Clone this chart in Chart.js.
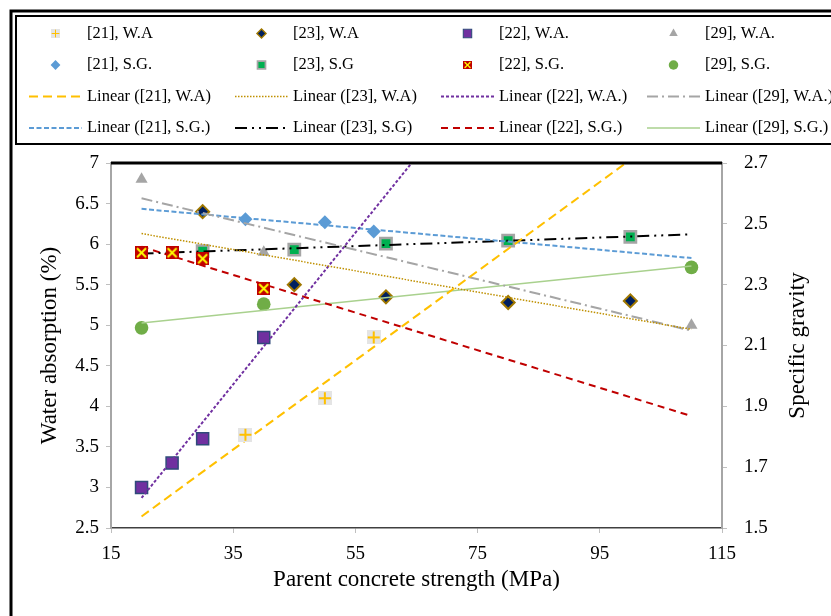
<!DOCTYPE html>
<html lang="en">
<head>
    <meta charset="UTF-8">
    <title>Water absorption and specific gravity</title>
    <style>
        body { margin: 0; background: #fff; }
        #wrap { width: 831px; height: 616px; }
    </style>
    <script src="https://cdn.jsdelivr.net/npm/chart.js"></script>
</head>
<body>
    <div id="wrap">
        <canvas id="chart" width="831" height="616"></canvas>
    </div>

    <script>
        // Water absorption (%) - left axis
        const wa21X = [37, 50, 58];
        const wa21Y = [3.65, 4.10, 4.85];
        const wa23X = [30, 45, 60, 80, 100];
        const wa23Y = [6.40, 5.50, 5.35, 5.28, 5.30];
        const wa22X = [20, 25, 30, 40];
        const wa22Y = [3.00, 3.30, 3.60, 4.85];
        const wa29X = [20, 40, 110];
        const wa29Y = [6.80, 5.90, 5.00];

        // Specific gravity - right axis
        const sg21X = [37, 50, 58];
        const sg21Y = [2.515, 2.505, 2.475];
        const sg23X = [30, 45, 60, 80, 100];
        const sg23Y = [2.410, 2.415, 2.435, 2.445, 2.457];
        const sg22X = [20, 25, 30, 40];
        const sg22Y = [2.405, 2.405, 2.385, 2.287];
        const sg29X = [20, 40, 110];
        const sg29Y = [2.158, 2.236, 2.357];

        // trend lines are drawn over this strength range
        const trendRange = [20, 110];

        const xTicks = [15, 115, 20];     // min, max, step
        const waTicks = [2.5, 7, 0.5];
        const sgTicks = [1.5, 2.7, 0.2];

        const serif = "'Liberation Serif', 'Times New Roman', serif";
        Chart.defaults.font.family = serif;
        Chart.defaults.color = '#000';

        function pts(xs, ys) {
            return xs.map((x, i) => ({ x: x, y: ys[i] }));
        }

        // least squares line, like Excel's "Linear" trendline
        function linear(xs, ys) {
            const n = xs.length;
            const mx = xs.reduce((a, b) => a + b, 0) / n;
            const my = ys.reduce((a, b) => a + b, 0) / n;
            let sxy = 0, sxx = 0;
            for (let i = 0; i < n; i++) {
                sxy += (xs[i] - mx) * (ys[i] - my);
                sxx += (xs[i] - mx) * (xs[i] - mx);
            }
            const b = sxy / sxx;
            return trendRange.map(x => ({ x: x, y: my + b * (x - mx) }));
        }

        // marker pictures that Chart.js has no style for
        function crossMarker(s) {
            const c = document.createElement('canvas');
            c.width = c.height = s;
            const g = c.getContext('2d');
            g.fillStyle = '#E4E4E4';
            g.fillRect(0, 0, s, s);
            g.strokeStyle = '#FFC000';
            g.lineWidth = 2;
            g.beginPath();
            g.moveTo(s / 2, 1); g.lineTo(s / 2, s - 1);
            g.moveTo(1, s / 2); g.lineTo(s - 1, s / 2);
            g.stroke();
            return c;
        }
        function xSquareMarker(s) {
            const c = document.createElement('canvas');
            c.width = c.height = s;
            const g = c.getContext('2d');
            g.fillStyle = '#C00000';
            g.fillRect(0, 0, s, s);
            g.strokeStyle = '#FFFF00';
            g.lineWidth = 2;
            g.beginPath();
            g.moveTo(2, 2); g.lineTo(s - 2, s - 2);
            g.moveTo(s - 2, 2); g.lineTo(2, s - 2);
            g.stroke();
            return c;
        }

        function markers(label, data, axis, style, r, fill, border, bw, i) {
            return {
                type: 'scatter', label: label, data: data, yAxisID: axis,
                pointStyle: style, pointRadius: r, pointHoverRadius: r,
                backgroundColor: fill, borderColor: border, borderWidth: bw,
                pointBackgroundColor: fill, pointBorderColor: border, pointBorderWidth: bw,
                order: 20 - i
            };
        }
        function trend(label, data, axis, color, width, dash) {
            return {
                type: 'scatter', label: label, data: data, yAxisID: axis,
                showLine: true, pointRadius: 0, pointHoverRadius: 0,
                borderColor: color, backgroundColor: color, borderWidth: width,
                borderDash: dash, order: 0
            };
        }

        const datasets = [
            markers('[21], W.A', pts(wa21X, wa21Y), 'y', crossMarker(14), '#E4E4E4', '#FFC000', 0, 0),
            markers('[23], W.A', pts(wa23X, wa23Y), 'y', 'rectRot', 6.5, '#002060', '#A07800', 2, 1),
            markers('[22], W.A.', pts(wa22X, wa22Y), 'y', 'rect', 8.5, '#7030A0', '#2F4A7A', 1.5, 2),
            markers('[29], W.A.', pts(wa29X, wa29Y), 'y', 'triangle', 7, '#A5A5A5', '#A5A5A5', 0, 3),
            markers('[21], S.G.', pts(sg21X, sg21Y), 'y2', 'rectRot', 7, '#5B9BD5', '#5B9BD5', 0, 4),
            markers('[23], S.G', pts(sg23X, sg23Y), 'y2', 'rect', 8, '#00B050', '#A5A5A5', 2.5, 5),
            markers('[22], S.G.', pts(sg22X, sg22Y), 'y2', xSquareMarker(13), '#C00000', '#FFFF00', 0, 6),
            markers('[29], S.G.', pts(sg29X, sg29Y), 'y2', 'circle', 6.8, '#70AD47', '#70AD47', 0, 7),
            trend('Linear ([21], W.A)', linear(wa21X, wa21Y), 'y', '#FFC000', 2, [9, 5]),
            trend('Linear ([23], W.A)', linear(wa23X, wa23Y), 'y', '#BF9000', 1.5, [1.5, 1.5]),
            trend('Linear ([22], W.A.)', linear(wa22X, wa22Y), 'y', '#7030A0', 2, [3, 2]),
            trend('Linear ([29], W.A.)', linear(wa29X, wa29Y), 'y', '#A5A5A5', 2, [11, 4, 2, 4]),
            trend('Linear ([21], S.G.)', linear(sg21X, sg21Y), 'y2', '#5B9BD5', 2, [5, 2.5]),
            trend('Linear ([23], S.G)', linear(sg23X, sg23Y), 'y2', '#000000', 2, [12, 5, 2, 5, 2, 5]),
            trend('Linear ([22], S.G.)', linear(sg22X, sg22Y), 'y2', '#C00000', 2, [7, 5]),
            trend('Linear ([29], S.G.)', linear(sg29X, sg29Y), 'y2', '#A9D18E', 1.5, [])
        ];

        // frame, legend grid, top border of the plot and right axis title
        const decorPlugin = {
            id: 'decor',
            beforeDraw(chart) {
                const ctx = chart.ctx;
                ctx.save();
                ctx.fillStyle = '#fff';
                ctx.fillRect(0, 0, chart.width, chart.height);
                ctx.restore();
            },
            afterDraw(chart) {
                const ctx = chart.ctx;
                const area = chart.chartArea;
                ctx.save();

                // outer frame
                ctx.strokeStyle = '#000';
                ctx.lineWidth = 3;
                ctx.beginPath();
                ctx.moveTo(11, chart.height);
                ctx.lineTo(11, 11);
                ctx.lineTo(chart.width, 11);
                ctx.stroke();
                // legend box
                ctx.lineWidth = 2;
                ctx.beginPath();
                ctx.moveTo(chart.width, 16);
                ctx.lineTo(16, 16);
                ctx.lineTo(16, 144);
                ctx.lineTo(chart.width, 144);
                ctx.stroke();

                // plot top border
                ctx.lineWidth = 3;
                ctx.beginPath();
                ctx.moveTo(area.left, area.top);
                ctx.lineTo(area.right, area.top);
                ctx.stroke();

                // legend, 4 columns
                ctx.font = '16.5px ' + serif;
                ctx.textBaseline = 'middle';
                ctx.textAlign = 'left';
                chart.data.datasets.forEach((ds, i) => {
                    const tx = 87 + (i % 4) * 206;
                    const ty = 33.5 + Math.floor(i / 4) * 31.5;
                    if (ds.showLine) {
                        ctx.save();
                        ctx.strokeStyle = ds.borderColor;
                        ctx.lineWidth = ds.borderWidth;
                        ctx.setLineDash(ds.borderDash);
                        ctx.beginPath();
                        ctx.moveTo(tx - 58, ty);
                        ctx.lineTo(tx - 5, ty);
                        ctx.stroke();
                        ctx.restore();
                    } else if (ds.pointStyle instanceof HTMLCanvasElement) {
                        const s = ds.pointStyle.width * 0.65;
                        ctx.drawImage(ds.pointStyle, tx - 31.5 - s / 2, ty - s / 2, s, s);
                    } else {
                        ctx.save();
                        ctx.fillStyle = ds.pointBackgroundColor;
                        ctx.strokeStyle = ds.pointBorderColor;
                        ctx.lineWidth = ds.pointBorderWidth * 0.7;
                        Chart.helpers.drawPoint(ctx, {
                            pointStyle: ds.pointStyle,
                            radius: ds.pointRadius * 0.7,
                            borderWidth: ds.pointBorderWidth * 0.7,
                            rotation: 0
                        }, tx - 31.5, ty);
                        ctx.restore();
                    }
                    ctx.fillStyle = '#000';
                    ctx.fillText(ds.label, tx, ty);
                });

                // right axis title, reads bottom to top like the left one
                ctx.translate(798, (area.top + area.bottom) / 2);
                ctx.rotate(-Math.PI / 2);
                ctx.font = '23px ' + serif;
                ctx.textAlign = 'center';
                ctx.fillText('Specific gravity', 0, 0);
                ctx.restore();
            }
        };

        new Chart(document.getElementById('chart'), {
            type: 'scatter',
            data: { datasets: datasets },
            options: {
                responsive: false,
                animation: false,
                layout: { padding: { top: 163, left: 0, right: 0, bottom: 0 } },
                plugins: {
                    legend: { display: false },
                    tooltip: { enabled: false }
                },
                scales: {
                    x: {
                        type: 'linear',
                        min: xTicks[0], max: xTicks[1],
                        ticks: { stepSize: xTicks[2], font: { size: 19 }, color: '#000', padding: 10 },
                        grid: { display: true, drawOnChartArea: false, tickLength: 5, tickColor: '#BFBFBF' },
                        border: { color: '#404040', width: 1.5 },
                        title: {
                            display: true, text: 'Parent concrete strength (MPa)',
                            font: { size: 23 }, color: '#000', padding: { top: 0, bottom: 22 }
                        },
                        afterFit: s => { s.height = 88; }
                    },
                    y: {
                        type: 'linear', position: 'left',
                        min: waTicks[0], max: waTicks[1],
                        ticks: {
                            stepSize: waTicks[2], font: { size: 19 }, color: '#000', padding: 7,
                            callback: v => String(Number(v.toFixed(1)))
                        },
                        grid: { display: true, drawOnChartArea: false, tickLength: 5, tickColor: '#BFBFBF' },
                        border: { color: '#A6A6A6', width: 2 },
                        title: {
                            display: true, text: 'Water absorption (%)',
                            font: { size: 23 }, color: '#000', padding: { top: 36, bottom: 0 }
                        },
                        afterFit: s => { s.width = 111; }
                    },
                    y2: {
                        type: 'linear', position: 'right',
                        min: sgTicks[0], max: sgTicks[1],
                        ticks: {
                            stepSize: sgTicks[2], font: { size: 19 }, color: '#000', padding: 17,
                            callback: v => v.toFixed(1)
                        },
                        grid: { display: true, drawOnChartArea: false, tickLength: 5, tickColor: '#BFBFBF' },
                        border: { color: '#A6A6A6', width: 2 },
                        afterFit: s => { s.width = 109; }
                    }
                }
            },
            plugins: [decorPlugin]
        });
    </script>
</body>
</html>
